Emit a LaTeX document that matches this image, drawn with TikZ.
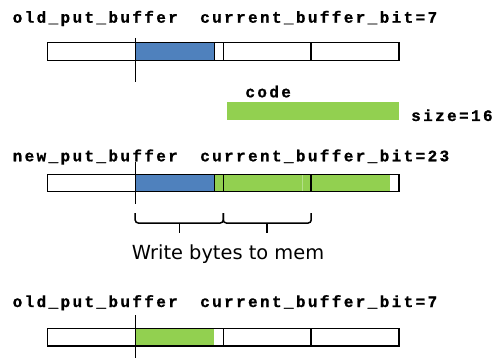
\documentclass[tikz,border=0pt]{standalone}
\usepackage{fontspec}
\newfontfamily\codefont[LetterSpace=14.8,FakeBold=1]{Liberation Mono Bold}
\newfontfamily\labelfont{DejaVu Sans}
\definecolor{bufblue}{HTML}{4F81BD}
\definecolor{bufgreen}{HTML}{92D050}
\definecolor{seamgreen}{HTML}{B4E08A}
\tikzset{
  codetxt/.style={anchor=base west, inner sep=0pt, font=\codefont\fontsize{16}{16}\selectfont},
  boxline/.style={draw=black, line width=1.6pt},
  ptrline/.style={draw=black, line width=1.3pt},
  bracestyle/.style={draw=black, line width=1.5pt, rounded corners=3pt}
}
\begin{document}
\begin{tikzpicture}[x=1pt, y=-1pt]
\useasboundingbox[fill=white] (0,0) rectangle (497,358);

% ---------- row 1 ----------
\node[codetxt] (t1) at (12.5,22.7) {old\_put\_buffer};
\node[codetxt] (c1) at (200,22.7) {current\_buffer\_bit=7};
\fill[bufblue] (135.7,42.7) rectangle (214.3,60.7);
\draw[boxline] (47.5,42.7) rectangle (399,60.7);
\draw[boxline] (214.3,42.7) -- (214.3,60.7);
\draw[boxline] (223.3,42.7) -- (223.3,60.7);
\draw[boxline] (311,42.7) -- (311,60.7);
\coordinate (p1a) at (135.7,38);
\coordinate (p1b) at (135.7,81.7);
\draw[ptrline] (p1a) -- (p1b);

% ---------- code ----------
\node[codetxt] (tcode) at (245.2,97.3) {code};
\fill[bufgreen] (227.3,102.3) rectangle (399,119.7);
\node[codetxt] (tsize) at (411,121) {size=16};

% ---------- row 2 ----------
\node[codetxt] (t2) at (12.5,161.3) {new\_put\_buffer};
\node[codetxt] (c2) at (200,161.3) {current\_buffer\_bit=23};
\fill[bufblue] (135.7,174.3) rectangle (214.3,191.5);
\fill[bufgreen] (214.3,174.3) rectangle (390,191.5);
\draw[seamgreen, line width=0.7pt] (302.7,175) -- (302.7,191);
\draw[boxline] (47.5,174.3) rectangle (399,191.5);
\draw[boxline] (214.3,174.3) -- (214.3,191.5);
\draw[boxline] (223.3,174.3) -- (223.3,191.5);
\draw[boxline] (311,174.3) -- (311,191.5);
\coordinate (p2a) at (135.7,162);
\coordinate (p2b) at (135.7,203.5);
\draw[ptrline] (p2a) -- (p2b);

% ---------- braces ----------
\coordinate (b1) at (135.2,213);
\coordinate (b2) at (223.3,213);
\coordinate (b3) at (311.2,213);
\coordinate (k1) at (179.3,223);
\coordinate (k2) at (267,223);
\draw[bracestyle] (b1) |- (k1) -| (b2);
\draw[bracestyle] (b2) |- (k2) -| (b3);
\draw[black, line width=1.5pt] (k1) -- ++(0,9.7);
\draw[black, line width=1.5pt] (k2) -- ++(0,9.7);
\node[anchor=base, inner sep=0pt, font=\labelfont\fontsize{19.4}{19.4}\selectfont] (wr) at (228,259) {Write bytes to mem};

% ---------- row 3 ----------
\node[codetxt] (t3) at (12.5,307) {old\_put\_buffer};
\node[codetxt] (c3) at (200,307) {current\_buffer\_bit=7};
\fill[bufgreen] (135.7,328.3) rectangle (214.3,345.7);
\draw[boxline] (47.5,328.3) rectangle (399,345.7);
\draw[boxline] (223.3,328.3) -- (223.3,345.7);
\draw[boxline] (311,328.3) -- (311,345.7);
\coordinate (p3a) at (135.7,315);
\coordinate (p3b) at (135.7,358);
\draw[ptrline] (p3a) -- (p3b);
\end{tikzpicture}
\end{document}
